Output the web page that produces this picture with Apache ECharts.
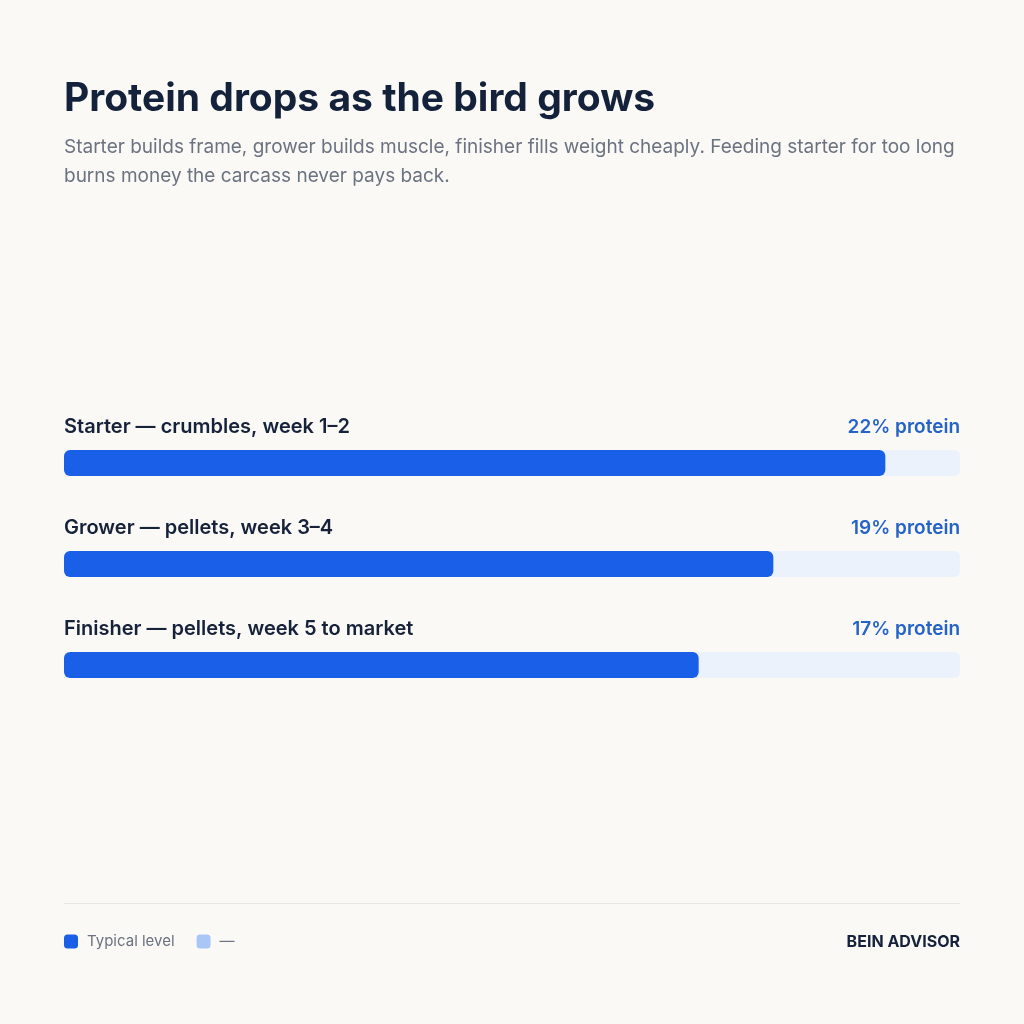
<!DOCTYPE html>
<html>
<head>
<meta charset="utf-8">
<script src="https://cdn.jsdelivr.net/npm/echarts@6/dist/echarts.min.js"></script>
<style>
  html, body { margin: 0; padding: 0; background: #faf9f6; }
  #chart { width: 1024px; height: 1024px; }
</style>
</head>
<body>
<div id="chart"></div>
<script>
// feed stages and their typical crude protein level
var stages = ['Starter — crumbles, week 1–2', 'Grower — pellets, week 3–4', 'Finisher — pellets, week 5 to market'];
var protein = [22, 19, 17];
var scaleMax = 24;
var track = [24, 24, 24];

var font = 'Inter, "Noto Sans", sans-serif';
var chart = echarts.init(document.getElementById('chart'));

chart.setOption({
  backgroundColor: '#faf9f6',
  animation: false,
  title: {
    left: 64,
    top: 75,
    text: 'Protein drops as the bird grows',
    textStyle: { fontFamily: font, fontSize: 39, fontWeight: 700, color: '#14213a', lineHeight: 48 },
    subtext: 'Starter builds frame, grower builds muscle, finisher fills weight cheaply. Feeding starter for too long\nburns money the carcass never pays back.',
    subtextStyle: { fontFamily: font, fontSize: 19, color: '#6b7280', lineHeight: 29 },
    itemGap: 10,
    padding: 0
  },
  legend: {
    left: 64,
    top: 934,
    padding: 0,
    itemWidth: 14,
    itemHeight: 14,
    itemGap: 22,
    icon: 'roundRect',
    textStyle: { fontFamily: font, fontSize: 15, color: '#6b7280', padding: [0, 0, 0, 4] },
    data: [
      { name: 'Typical level', itemStyle: { color: '#1a5fe8' } },
      { name: '—', itemStyle: { color: '#a9c6f6' } }
    ]
  },
  grid: { left: 64, right: 64, top: 412.5, height: 303, containLabel: false },
  xAxis: { type: 'value', min: 0, max: scaleMax, show: false },
  yAxis: { type: 'category', data: stages, inverse: true, show: false },
  series: [
    {
      name: '—',
      type: 'bar',
      data: track,
      barWidth: 26,
      barGap: '-100%',
      silent: true,
      itemStyle: { color: '#ecf2fc', borderRadius: 6 },
      label: {
        show: true,
        position: [0, -23],
        align: 'left',
        verticalAlign: 'middle',
        formatter: function (p) { return stages[p.dataIndex]; },
        fontFamily: font, fontSize: 20, fontWeight: 600, color: '#16213a'
      },
      z: 1
    },
    {
      name: 'Typical level',
      type: 'bar',
      data: protein,
      barWidth: 26,
      barGap: '-100%',
      itemStyle: { color: '#1a5fe8', borderRadius: 6 },
      z: 2
    },
    {
      name: 'value',
      type: 'bar',
      data: track,
      barWidth: 26,
      barGap: '-100%',
      silent: true,
      itemStyle: { color: 'rgba(0,0,0,0)' },
      label: {
        show: true,
        position: ['100%', -23],
        align: 'right',
        verticalAlign: 'middle',
        formatter: function (p) { return protein[p.dataIndex] + '% protein'; },
        fontFamily: font, fontSize: 19, fontWeight: 600, color: '#2563c8'
      },
      z: 3
    }
  ],
  graphic: [
    {
      type: 'line',
      shape: { x1: 64, y1: 903.5, x2: 960, y2: 903.5 },
      style: { stroke: '#e6e6e3', lineWidth: 1 }
    },
    {
      type: 'text',
      right: 64,
      top: 934,
      style: { text: 'BEIN ADVISOR', fontFamily: font, fontSize: 16, fontWeight: 700, fill: '#16213a' }
    }
  ]
});
</script>
</body>
</html>
